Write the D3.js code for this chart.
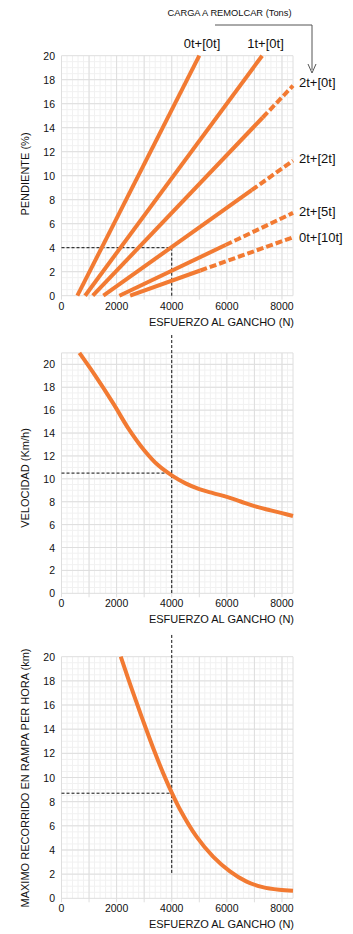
<!DOCTYPE html>
<html>
<head>
<meta charset="utf-8">
<script src="https://cdn.jsdelivr.net/npm/d3@7"></script>
<style>
  body { margin: 0; background: #fff; }
  text { font-family: "Liberation Sans", Arial, sans-serif; fill: #111; }
  .grid-minor { stroke: #f1f1f1; stroke-width: 1; }
  .grid-major { stroke: #dedede; stroke-width: 1; }
  .ref { stroke: #111; stroke-width: 1; stroke-dasharray: 3,2; fill: none; }
  .curve { stroke: #f27a32; stroke-width: 4; fill: none; }
  .dash { stroke-dasharray: 7,3; }
</style>
</head>
<body>
<script>
// ---- data ----
var effortTicks = [0, 2000, 4000, 6000, 8000];
var loadLabels = ["0t+[0t]", "1t+[0t]", "2t+[0t]", "2t+[2t]", "2t+[5t]", "0t+[10t]"];
// grade (%) against hook effort (N): solid part and dotted (extrapolated) part
var gradeSolid = [
  [[575, 0], [5000, 20]],
  [[855, 0], [7280, 20]],
  [[1135, 0], [7300, 14.85]],
  [[1520, 0], [6900, 8.8]],
  [[2100, 0], [5950, 4.22]],
  [[2490, 0], [5036, 2.1]]
];
var gradeDashed = [
  [],
  [],
  [[7300, 14.85], [8400, 17.5]],
  [[6900, 8.8], [8400, 11.25]],
  [[5950, 4.22], [8400, 6.9]],
  [[5036, 2.1], [8400, 4.87]]
];
var speedCurve = [[650, 21.0], [1200, 19.1], [1900, 16.5], [2400, 14.5], [3000, 12.5],
  [3500, 11.2], [4000, 10.3], [4500, 9.6], [5000, 9.1], [5500, 8.75], [6000, 8.42],
  [6500, 8.02], [7000, 7.62], [7500, 7.3], [8000, 7.0], [8400, 6.75]];
var rampCurve = [[2150, 20], [2600, 17.0], [3000, 14.45], [3400, 12.0], [3700, 10.3],
  [4000, 8.75], [4300, 7.35], [4900, 5.1], [5500, 3.45], [6100, 2.25], [6700, 1.4],
  [7300, 0.92], [7900, 0.7], [8400, 0.62]];
// example reading (dashed guide lines): effort, value, top of vertical guide
var gradeRef = [4000, 4, 4];
var speedRef = [4000, 10.5, 22.56];
var rampRef = [4000, 8.7, 21.8];

var W = 353, H = 934;
var svg = d3.select("body").append("svg")
    .attr("width", W)
    .attr("height", H);

var x = d3.scaleLinear().domain([0, 8400]).range([61.5, 293]);

function panel(opts) {
  var y = d3.scaleLinear().domain([0, opts.yMax]).range([opts.bottom, opts.top]);
  var g = svg.append("g");

  // minor grid
  g.selectAll(".vmin").data(d3.range(200, 8400, 200))
    .enter().append("line").attr("class", "grid-minor")
    .attr("x1", d => x(d)).attr("x2", d => x(d))
    .attr("y1", y(opts.yMax)).attr("y2", y(0));
  g.selectAll(".hmin").data(d3.range(0.5, opts.yMax, 0.5))
    .enter().append("line").attr("class", "grid-minor")
    .attr("x1", x(0)).attr("x2", x(8400))
    .attr("y1", d => y(d)).attr("y2", d => y(d));
  // major grid
  g.selectAll(".vmaj").data(d3.range(0, 8001, 1000))
    .enter().append("line").attr("class", "grid-major")
    .attr("x1", d => x(d)).attr("x2", d => x(d))
    .attr("y1", y(opts.yMax)).attr("y2", y(0) + 4);
  g.selectAll(".hmaj").data(d3.range(0, opts.yMax + 0.01, 2))
    .enter().append("line").attr("class", "grid-major")
    .attr("x1", x(0)).attr("x2", x(8400))
    .attr("y1", d => y(d)).attr("y2", d => y(d));
  g.append("line").attr("class", "grid-major")
    .attr("x1", x(8400)).attr("x2", x(8400))
    .attr("y1", y(opts.yMax)).attr("y2", y(0));
  if (opts.yMax % 2) {
    g.append("line").attr("class", "grid-major")
      .attr("x1", x(0)).attr("x2", x(8400))
      .attr("y1", y(opts.yMax)).attr("y2", y(opts.yMax));
  }

  // tick labels
  g.selectAll(".xl").data(effortTicks)
    .enter().append("text")
    .attr("x", d => x(d)).attr("y", y(0) + 14)
    .attr("text-anchor", "middle")
    .style("font-size", "10.5px")
    .text(d => d);
  g.selectAll(".yl").data(d3.range(0, 21, 2))
    .enter().append("text")
    .attr("x", 55).attr("y", d => y(d) + 4)
    .attr("text-anchor", "end")
    .style("font-size", "10.5px")
    .text(d => d);

  // titles
  g.append("text")
    .attr("x", 294).attr("y", y(0) + 30)
    .attr("text-anchor", "end")
    .style("font-size", "11px")
    .text("ESFUERZO AL GANCHO (N)");
  g.append("text")
    .attr("transform", "translate(29," + opts.titleY + ") rotate(-90)")
    .attr("text-anchor", "middle")
    .style("font-size", "11px")
    .text(opts.title);

  // guide lines
  var r = opts.ref;
  g.append("path").attr("class", "ref")
    .attr("d", "M" + x(0) + "," + y(r[1]) + "H" + x(r[0]));
  g.append("path").attr("class", "ref")
    .attr("d", "M" + x(r[0]) + "," + y(r[2]) + "V" + y(opts.refBottom));

  return { g: g, y: y };
}

// ---- panel 1: grade ----
var p1 = panel({ yMax: 20, top: 55.7, bottom: 295.7, title: "PENDIENTE (%)", titleY: 174,
  ref: gradeRef, refBottom: 0 });
var line1 = d3.line().x(d => x(d[0])).y(d => p1.y(d[1]));
p1.g.selectAll(".solid").data(gradeSolid)
  .enter().append("path").attr("class", "curve")
  .attr("d", line1);
p1.g.selectAll(".dashed").data(gradeDashed.filter(d => d.length))
  .enter().append("path").attr("class", "curve dash")
  .attr("d", line1);

var labelPos = [[202, 48, "middle"], [265.5, 48, "middle"], [299, 87, "start"],
  [299, 163, "start"], [299, 216, "start"], [299, 242, "start"]];
p1.g.selectAll(".lab").data(loadLabels)
  .enter().append("text")
  .attr("x", (d, i) => labelPos[i][0])
  .attr("y", (d, i) => labelPos[i][1])
  .attr("text-anchor", (d, i) => labelPos[i][2])
  .style("font-size", "13px")
  .text(d => d);

svg.append("text")
  .attr("x", 229.5).attr("y", 16)
  .attr("text-anchor", "middle")
  .style("font-size", "9.3px")
  .text("CARGA A REMOLCAR (Tons)");
svg.append("path")
  .attr("d", "M215,25H312V70")
  .attr("fill", "none").attr("stroke", "#555").attr("stroke-width", 1);
svg.append("path")
  .attr("d", "M308,64L312,73L316,64")
  .attr("fill", "none").attr("stroke", "#555").attr("stroke-width", 1);

// ---- panel 2: speed ----
var p2 = panel({ yMax: 21, top: 352.9, bottom: 593.3, title: "VELOCIDAD (Km/h)", titleY: 478,
  ref: speedRef, refBottom: 0 });
p2.g.append("path").datum(speedCurve).attr("class", "curve")
  .attr("d", d3.line().curve(d3.curveCatmullRom.alpha(0.5)).x(d => x(d[0])).y(d => p2.y(d[1])));

// ---- panel 3: distance on ramp per hour ----
var p3 = panel({ yMax: 20, top: 656.7, bottom: 898.3,
  title: "MAXIMO RECORRIDO EN RAMPA PER HORA  (km)", titleY: 778,
  ref: rampRef, refBottom: 2 });
p3.g.append("path").datum(rampCurve).attr("class", "curve")
  .attr("d", d3.line().curve(d3.curveCatmullRom.alpha(0.5)).x(d => x(d[0])).y(d => p3.y(d[1])));
</script>
</body>
</html>
